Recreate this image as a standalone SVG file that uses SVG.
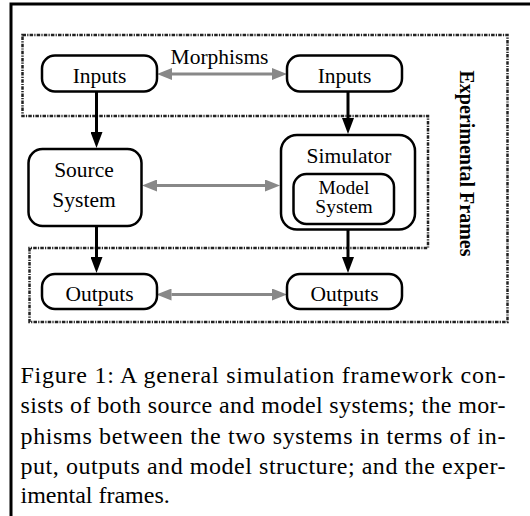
<svg xmlns="http://www.w3.org/2000/svg" width="530" height="516" viewBox="0 0 530 516">
<style>
.box{fill:#fff;stroke:#000;stroke-width:2.5}
.lbl{font-family:"Liberation Serif","Times New Roman",Tinos,Times,serif;font-size:21.5px;fill:#000;text-anchor:middle}
.sm{font-size:19.5px}
.cap{font-family:"Liberation Serif","Times New Roman",Tinos,Times,serif;font-size:24px;fill:#000}
.ttl{font-family:"Liberation Serif","Times New Roman",Tinos,Times,serif;font-size:20px;font-weight:bold;text-anchor:middle}
.frame{fill:none;stroke:#222;stroke-width:2.5;stroke-dasharray:3.5 1.2 1.2 1.2}
.blk{stroke:#000;stroke-width:3;fill:none;marker-end:url(#ab)}
.gry{stroke:#888;stroke-width:3;fill:none;marker-start:url(#ag);marker-end:url(#ag)}
</style>
<defs>
<marker id="ab" markerUnits="userSpaceOnUse" markerWidth="16" markerHeight="12" refX="0" refY="6" orient="auto"><path d="M0,0 L16,6 L0,12 z" fill="#000"/></marker>
<marker id="ag" markerUnits="userSpaceOnUse" markerWidth="15" markerHeight="12" refX="0" refY="6" orient="auto-start-reverse"><path d="M0,0 L15,6 L0,12 z" fill="#888"/></marker>
</defs>
<rect width="530" height="516" fill="#fff"/>
<path d="M11,516 V4 H530" fill="none" stroke="#000" stroke-width="3"/>
<g id="experimental-frames">
<path class="frame" d="M22.5,35 H507.5 V322 H29.5 V248 H428 V116 H22.5 Z"/>
<text class="ttl" transform="translate(460,163.5) rotate(90)">Experimental Frames</text>
</g>
<g id="connectors">
<path class="blk" d="M96.5,92 V132"/>
<path class="blk" d="M348,92 V118"/>
<path class="blk" d="M96.5,226 V257"/>
<path class="blk" d="M348,229.5 V257"/>
<path class="gry" d="M172,74 H272"/>
<path class="gry" d="M157,185.5 H265"/>
<path class="gry" d="M171.5,294.5 H272"/>
<text class="lbl" x="219.5" y="64">Morphisms</text>
</g>
<g id="inputs-left"><rect class="box" x="42" y="55.5" width="115" height="36" rx="13"/><text class="lbl" x="99.5" y="83">Inputs</text></g>
<g id="inputs-right"><rect class="box" x="287" y="55.5" width="115" height="36" rx="13"/><text class="lbl" x="344.5" y="83">Inputs</text></g>
<g id="source-system"><rect class="box" x="28.5" y="149" width="113" height="77" rx="14"/><text class="lbl" x="84" y="177">Source</text><text class="lbl" x="84" y="206.5">System</text></g>
<g id="simulator"><rect class="box" x="281" y="135" width="134" height="94.5" rx="16"/><text class="lbl" x="349" y="163">Simulator</text></g>
<g id="model-system"><rect class="box" x="293.5" y="174" width="100.5" height="50" rx="13"/><text class="lbl sm" x="344" y="193.5">Model</text><text class="lbl sm" x="344" y="213">System</text></g>
<g id="outputs-left"><rect class="box" x="42" y="274" width="115" height="35" rx="13"/><text class="lbl" x="99.5" y="301">Outputs</text></g>
<g id="outputs-right"><rect class="box" x="287" y="274" width="115" height="35" rx="13"/><text class="lbl" x="344.5" y="301">Outputs</text></g>
<g id="caption">
<text class="cap" x="20.5" y="383" textLength="485">Figure 1:  A general simulation framework con-</text>
<text class="cap" x="20.5" y="413" textLength="485">sists of both source and model systems; the mor-</text>
<text class="cap" x="20.5" y="443.5" textLength="485">phisms between the two systems in terms of in-</text>
<text class="cap" x="20.5" y="473.5" textLength="485">put, outputs and model structure; and the exper-</text>
<text class="cap" x="20.5" y="503">imental frames.</text>
</g>
</svg>
